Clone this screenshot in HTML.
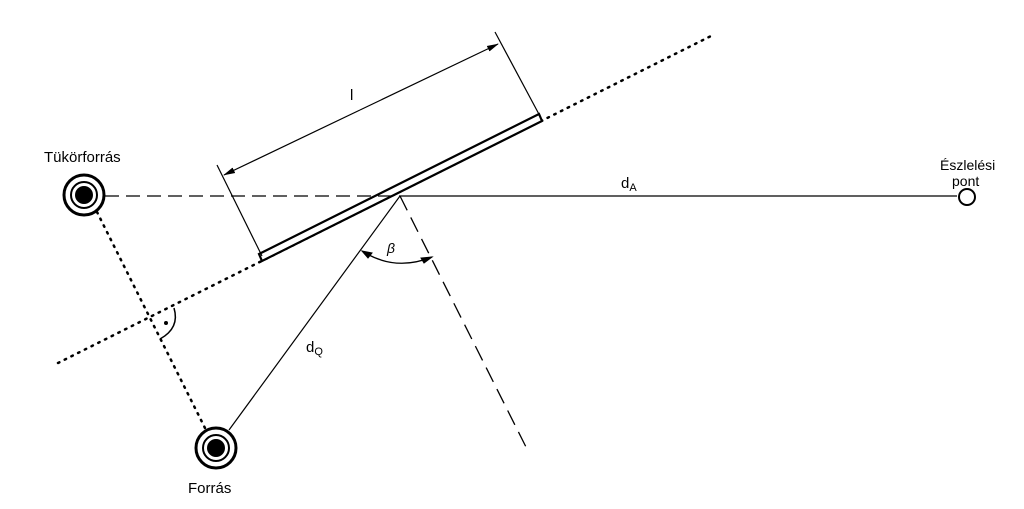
<!DOCTYPE html>
<html><head><meta charset="utf-8"><style>
html,body{margin:0;padding:0;background:#fff;}
svg{display:block}
text{font-family:"Liberation Sans",sans-serif;fill:#000}
</style></head><body>
<svg width="1024" height="509" viewBox="0 0 1024 509">
<defs>
<marker id="ar" markerWidth="12" markerHeight="8" refX="11" refY="4" orient="auto" markerUnits="userSpaceOnUse">
<path d="M0,1 L12,4 L0,7 Z" fill="#000"/></marker>
</defs>
<g stroke="#000" fill="none">
<line x1="58" y1="363" x2="715" y2="34" stroke-width="2.5" stroke-dasharray="1.5 6" stroke-linecap="round"/>
<line x1="97" y1="212" x2="206" y2="430" stroke-width="2.5" stroke-dasharray="1.5 6" stroke-linecap="round"/>
<polygon points="259,254 539,114 542,121 262,261" fill="#fff" stroke-width="2.2"/>
<line x1="105" y1="196" x2="400" y2="196" stroke-width="1.3" stroke-dasharray="14 7"/>
<line x1="400" y1="196" x2="957" y2="196" stroke-width="1.2"/>
<line x1="400" y1="196" x2="526" y2="447" stroke-width="1.3" stroke-dasharray="16 8"/>
<line x1="229" y1="430" x2="400" y2="196" stroke-width="1.2"/>
<line x1="262" y1="256" x2="217" y2="165" stroke-width="1.2"/>
<line x1="541" y1="118" x2="495" y2="32" stroke-width="1.2"/>
<line x1="360" y1="110" x2="224" y2="175" stroke-width="1.2" marker-end="url(#ar)"/>
<line x1="360" y1="110" x2="498" y2="44" stroke-width="1.2" marker-end="url(#ar)"/>
<path d="M362,251 Q395,272 432,257" stroke-width="1.3"/>
<path d="M362,251 l10,2 l-4,5 Z" fill="#000"/>
<path d="M432,257 l-11,1 l3,5 Z" fill="#000"/>
<path d="M174,308 Q180,328 160,339" stroke-width="1.5"/>
<circle cx="166" cy="323" r="2" fill="#000" stroke="none"/>
<circle cx="84" cy="195" r="20" stroke-width="3"/>
<circle cx="84" cy="195" r="13" stroke-width="2"/>
<circle cx="84" cy="195" r="9" fill="#000" stroke="none"/>
<circle cx="216" cy="448" r="20" stroke-width="3"/>
<circle cx="216" cy="448" r="13" stroke-width="2"/>
<circle cx="216" cy="448" r="9" fill="#000" stroke="none"/>
<circle cx="967" cy="197" r="8" stroke-width="2"/>
</g>
<text x="44" y="162" font-size="15">Tükörforrás</text>
<text x="188" y="493" font-size="15">Forrás</text>
<text x="940" y="170" font-size="14">Észlelési</text>
<text x="952" y="186" font-size="14">pont</text>
<text x="621" y="188" font-size="15">d<tspan font-size="11" dy="3">A</tspan></text>
<text x="306" y="352" font-size="15">d<tspan font-size="11" dy="3">Q</tspan></text>
<text x="387" y="253" font-size="14" font-style="italic">β</text>
<text x="350" y="100" font-size="15">l</text>
</svg>
</body></html>
